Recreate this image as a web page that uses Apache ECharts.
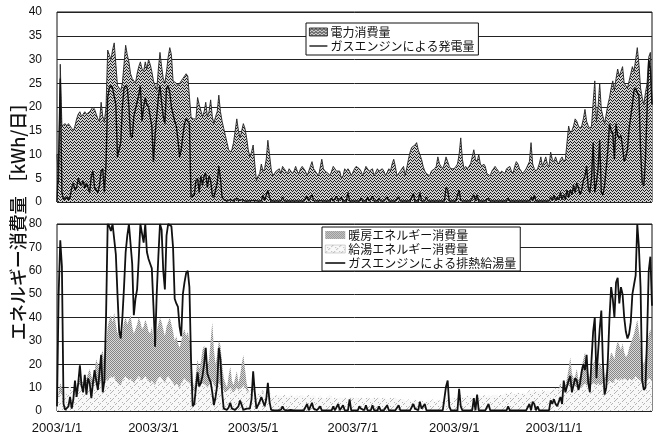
<!DOCTYPE html>
<html>
<head>
<meta charset="utf-8">
<script src="https://cdn.jsdelivr.net/npm/echarts@6/dist/echarts.min.js"></script>
<style>
  html, body { margin: 0; padding: 0; background: #fff; }
  #chart { width: 654px; height: 441px; }
</style>
</head>
<body>
<div id="chart"></div>
<script>
// Daily values for 2003 (kWh/day), Jan 1 .. Dec 31

// Electricity consumption
const powerUse = [
  // Jan
  10,4,29,16,16,16.5,16,16.5,16,15.5,15,16,17.5,18.5,19,18,18.5,19,18.5,18.5,19,19.5,20,19.5,18.5,17.5,17,21,18,17,20,
  // Feb
  32,31,30,32,33.5,29,24.5,24,23.5,25,29,33,31,29.5,27,26,25.5,25,27,28.5,29.5,28,27.5,29.5,28,30,29,27.5,
  // Mar
  25.5,24.5,23.5,28,31.5,28.5,26,25,27.5,30.5,32.5,31,25.5,25.5,25,24.5,24.5,25.5,26,26.5,27,26.5,26.5,18,17.5,17.5,17.5,22,20.5,20.5,18,
  // Apr
  19,21,18,19,21.5,18,16.5,18,19,22.5,19,17,15.5,14,12.5,11,10.5,11,12.5,15,17.5,15,13.5,15,16.5,15.5,13.5,11,9.5,10.5,
  // May
  12,8,4.5,5.5,6,8,6.5,7,9,13,10,7,5.5,6,6.5,6.5,7,6,7.5,7,6.5,6,7,7,6,6.5,7.5,6.5,6,7,7.5,
  // Jun
  7.5,6.5,5.5,5.5,7.5,8.5,7,6.5,6.5,5.5,5.5,9,7,6.5,6.5,6,5.5,5.5,7.5,7,6.5,6.5,6.5,5,5.5,7,6.5,7,6.5,5.5,
  // Jul
  5.5,7,7.5,7.5,7,6.5,5.5,5.5,7.5,7,6.5,6.5,7,5.5,5.5,7,6.5,6.5,7,6.5,5.5,5.5,7,6.5,8,9,7.5,5.5,5.5,6.5,7,
  // Aug
  7.5,5.5,5.5,9,10.5,11.5,11.5,12,12.5,11,10,9,7.5,6.5,6,6,5.5,6.5,6.5,7,7.5,9.5,8,7.5,7,8,9.5,9.5,7.5,7,7,
  // Sep
  7,7.5,8,10,13.5,9,7,7.5,7,7.5,8,9.5,11,9,8.5,10,8,7.5,8,7.5,6,6,5.5,6.5,7,7.5,7,6.5,6,6.5,
  // Oct
  6.5,6,7,7,7.5,6.5,6,7.5,8.5,8,7,6.5,6,6.5,7,7,8.5,12.5,8,7,6.5,7,8,9.5,7.5,8.5,9.5,8,7.5,10.5,9,
  // Nov
  8.5,9.5,8.5,8,9,9.5,8.5,9,9,16,14.5,15,16,17.5,17,16,15.5,16,17.5,19.5,17,16,15.5,16,21,25.5,17,20,25,19.5,
  // Dec
  18,16.5,18.5,20.5,22,24,25.5,23.5,26,28,26.5,27.5,28.5,25,24.5,24,25.5,27,28.5,27.5,30,32.5,29,24,22,20.5,23,25,30.5,31.5,20.5
];

// Electricity generated by the gas engine
const gasPower = [
  0,9,26,2,0.5,0.5,1,0.5,1,3,4,2.5,3,5,4,3.5,4.5,3,4,3,2,5.5,6.5,3,2.5,2,3.5,6.5,7,2,8,
  22,24,24.5,24,24,20.5,9.5,11,12.5,20,24,24.5,24,20,14,13.5,18,19.5,21,22.5,24.5,17,20,22,20.5,20,18,16,
  8.5,14,18,22,24.5,21,18,16.5,24,24.5,23,20,18.5,17,16,13,9.5,11,14,16.5,17.5,17,16.5,1,1,1.5,4.5,5,2,5.5,3.5,
  5.5,6,3,5.5,4.5,1.5,1,1,4,7.5,5,1,0.5,0.3,0.2,0.2,0.5,0.3,0.2,0.3,0.8,0.3,0.2,0.5,0.2,0.2,0.3,0.2,0.2,0.3,
  0.2,0.3,0.2,0.2,0.3,0.2,1.5,0.3,0.2,2.5,1,0.2,0.2,0.2,0.3,0.2,0.2,0.2,1,0.2,0.2,0.2,0.3,0.2,0.2,0.2,0.3,0.2,0.2,0.2,0.2,
  0.2,0.2,1.2,0.2,0.2,1.5,0.3,0.2,0.2,0.2,0.3,0.2,0.2,0.2,0.2,0.2,0.2,0.8,0.2,0.2,1.2,0.2,0.2,1,0.2,0.2,0.2,2,0.2,0.2,
  0.2,0.2,0.2,0.2,0.2,0.8,0.2,0.2,0.2,1,0.2,0.2,1.2,0.2,0.2,0.2,0.8,0.2,0.2,0.2,0.2,1,0.2,0.2,0.2,0.2,0.2,0.2,1,0.2,0.2,
  0.2,0.2,0.2,0.2,0.2,0.2,1.8,0.2,0.2,0.2,2,0.2,0.2,0.2,1,0.2,0.2,0.2,0.2,0.2,0.2,0.2,0.2,0.2,0.2,0.2,3,2.5,0.2,0.2,0.2,
  0.2,0.2,0.2,2.5,0.3,0.2,0.2,0.2,0.2,0.2,0.2,0.2,1.5,0.2,1.5,0.2,0.2,0.2,0.2,0.2,0.2,0.8,0.2,0.2,0.2,0.2,0.2,0.2,0.2,0.2,
  0.2,0.2,0.2,0.8,0.2,0.2,0.2,0.2,0.2,0.2,0.2,0.2,0.2,0.2,0.2,0.2,0.2,1,0.2,1.5,0.2,0.2,0.2,0.2,0.2,0.2,0.2,0.2,0.2,1,0.3,
  1.5,0.3,1,0.5,2,0.5,1.5,0.5,2.5,1,2.5,1.5,3.5,2,4,3,1.5,2.5,4.5,5.5,7.5,3,2,5,12.5,2,4,7,13,2,
  1.5,3.5,7,11,16.5,15,14.5,9,16.5,14,13.5,14,11.5,8.5,9.5,11,15.5,18,20.5,23.5,24,23,22.5,11,4,3.4,9,19.4,30,28,20.5
];

// Space heating energy consumption
const heatingUse = [
  3,8,12,10,4,5,6,8,10,7,6,9,11,12,14,13,12,11,14,16,18,15,13,17,22,20,18,24,26,20,27,
  36,39,41,38,42,37,33,35,31,34,38,40,37,39,41,36,33,35,37,40,38,35,36,39,37,34,33,36,
  31,28,34,37,40,38,35,32,36,38,40,37,34,30,32,29,27,30,33,35,32,34,30,25,13,10,16,22,18,21,26,
  28,24,19,22,30,38,26,20,24,30,28,20,14,12,10,15,19,13,11,14,17,12,15,20,24,18,12,9,8,10,
  12,8,5,4,6,8,9,6,7,10,6,3,2,2,3,1,1,1.5,2,1,0.5,0,0,0,0,0,0,0,0,0,0,
  0,0,0,0,0,0,0,0,0,0,0,0,0,0,0,0,0,0,0,0,0,0,0,0,0,0,0,0,0,0,
  0,0,0,0,0,0,0,0,0,0,0,0,0,0,0,0,0,0,0,0,0,0,0,0,0,0,0,0,0,0,0,
  0,0,0,0,0,0,0,0,0,0,0,0,0,0,0,0,0,0,0,0,0,0,0,0,0,0,0,0,0,0,0,
  0,0,0,0,0,0,0,0,0,0,0,0,0,0,0,0,0,0,0,0,0,0,0,0,0,0,0,0,0,0,
  0,0,0,0,0,0,0,0,0,0,0,0,1,0,0,2,0,4,0,3,0,0,2,0,5,0,4,6,3,8,5,
  7,9,6,10,12,8,13,11,14,18,23,16,14,15,18,13,15,19,22,25,21,16,14,17,20,22,15,18,21,19,
  16,14,17,19,22,25,24,22,27,30,28,26,29,25,23,24,27,29,31,33,36,39,34,28,22,20,23,28,33,35,30
];

// Hot water supply energy consumption
const hotWaterUse = [
  4,6,8,7,6,8,9,10,11,9,8,10,11,12,11,10,12,11,10,12,13,11,10,12,13,12,11,13,14,12,13,
  13,14,15,14,15,13,12,12,11,13,14,15,14,13,14,13,12,13,14,15,14,13,14,15,14,13,12,13,
  12,11,13,14,15,14,13,12,14,15,14,13,12,11,12,11,10,12,13,14,13,13,12,11,9,8,10,11,10,11,12,
  12,11,10,11,12,13,11,10,11,12,11,10,9,8,8,9,10,9,8,9,10,9,9,10,11,10,9,8,8,9,
  9,8,7,7,8,8,8,7,8,9,8,7,6,6,7,6,7,7,6,7,7,6,6,7,7,6,6,7,6,6,7,
  7,6,6,7,6,6,7,6,5,6,7,6,6,5,6,6,7,6,5,6,6,5,6,6,5,6,6,5,6,6,
  6,5,6,6,5,6,6,5,5,6,6,5,5,6,5,5,6,5,5,6,5,5,5,6,5,5,6,5,5,5,5,
  5,5,4,5,5,4,4,5,5,4,4,5,4,4,4,5,4,4,5,4,4,5,5,4,5,5,5,6,5,5,6,
  6,5,6,6,7,6,6,6,7,6,6,7,7,6,6,7,7,6,7,7,6,7,7,6,7,7,7,6,7,7,
  7,7,8,7,7,8,8,7,7,8,8,7,8,8,7,8,9,8,8,9,8,8,9,8,9,9,8,9,9,8,9,
  9,10,9,9,10,10,9,10,10,11,10,10,11,11,10,11,11,10,11,12,11,11,12,11,12,12,11,12,12,11,
  12,12,13,12,13,13,12,13,14,13,13,14,13,14,14,13,14,14,13,14,15,14,14,13,12,11,12,13,14,14,13
];

// Waste heat from the gas engine used for hot water
const recoveredHeat = [
  2,50,73,62,3,0.5,0.5,2,6,1,5,13,6,12,19.5,11,8,15.5,7,14,12,5.5,12,17.5,13,9,8.5,24,8,13,40,
  80,79,77,80,80,67,50,34.5,31,40,53,68,75,80,80,63,41,48,52,65,80,76,72,80,68,65,63,61,
  45,27.5,50,66,80,77.5,60,52,75,80,80,79,70,48,46,44.5,36,32,50,55,59,60,53,22,2,3,10,16.5,10.5,12,15,
  20,27,16,14,12.5,8,2.5,6,11,27,22,8,1,0.5,0.5,1.5,3.5,1,0.5,0.5,0.5,2,4.5,2.5,0.5,0.5,1,0.5,1,5,
  17,8,1,0.5,4,6,6,2,5,12,4,0.5,0.3,0.3,1,0.3,0.3,0.5,2,0.5,0.3,0.3,0.3,0.5,0.3,0.3,0.5,0.3,0.3,0.3,0.5,
  0.3,0.3,3,0.3,0.3,3.5,1,0.3,0.3,0.3,2,0.3,0.3,0.3,0.3,0.3,0.3,0.3,2,0.3,0.3,3,0.3,0.3,2.5,0.3,0.3,0.3,5,0.3,
  0.3,0.3,0.3,0.3,2,1,0.3,0.3,2.5,0.3,0.3,0.3,2.5,0.3,0.3,0.3,2,0.3,0.3,0.3,0.3,2.5,0.3,0.3,0.3,0.3,0.3,0.3,2.5,0.3,0.3,
  0.3,0.3,0.3,0.3,0.3,0.3,3,1,0.3,0.3,4,1,0.3,3,0.3,0.3,0.3,0.3,0.3,0.3,0.3,0.3,0.3,0.3,0.3,0.3,10.5,13,2,0.3,0.3,
  0.3,0.3,0.3,9.5,2,0.3,0.3,0.3,0.3,0.3,0.3,0.3,5.5,0.3,7,0.3,0.3,0.3,0.3,0.3,0.3,3,0.3,0.3,0.3,0.3,0.3,0.3,0.3,0.3,
  0.3,0.3,0.3,2,0.3,0.3,0.3,0.3,0.3,0.3,0.3,0.3,0.3,0.3,0.3,0.3,3,0.3,4,3,0.3,2,0.3,0.3,0.3,0.3,0.3,0.3,0.3,4.5,3,
  5,3,2,4,6,3,13,8,10.5,13,15,8,11,14,13,9,12,17,20,17.5,24,12,8,22,34,40,14,25,35,43,
  20,7,10,22,40,53,48,40,55,57,46,53,50,40,34,31,33,38,50,54,58,80,70,53,13,9,10,32,60,66,45
];

// Date labels shown on the horizontal axis
const tickLabels = ['2003/1/1', '2003/3/1', '2003/5/1', '2003/7/1', '2003/9/1', '2003/11/1'];

// Category list: every day of 2003 as "YYYY/M/D"
const days = [];
for (let i = 0; i < 365; i++) {
  const dt = new Date(2003, 0, 1 + i);
  days.push(dt.getFullYear() + '/' + (dt.getMonth() + 1) + '/' + dt.getDate());
}

// Fill textures
function pattern(w, h, bg, fg, pixels) {
  const c = document.createElement('canvas');
  c.width = w; c.height = h;
  const g = c.getContext('2d');
  g.fillStyle = bg; g.fillRect(0, 0, w, h);
  g.fillStyle = fg;
  pixels.forEach(p => g.fillRect(p[0], p[1], 1, 1));
  return { image: c, repeat: 'repeat' };
}
const zigzagFill = pattern(4, 3, '#cfcfcf', '#1a1a1a', [[0,2],[1,1],[2,0],[3,1]]);
const stippleFill = pattern(2, 2, '#dadada', '#858585', [[0,0],[1,1]]);
const hatchFill = pattern(8, 8, '#f8f8f8', '#b4b4b4', [[0,7],[1,6],[3,4],[4,3],[6,1],[7,0],[2,2],[6,6]]);

// Plain horizontal stroke used as the legend key for line series
const lineKeyThin = 'path://M0,0H20V1.5H0Z';
const lineKeyThick = 'path://M0,0H20V1.6H0Z';

const FONT_NUM = '"Liberation Sans", Arial, sans-serif';
const FONT_JP = '"Noto Sans CJK JP", sans-serif';

const chart = echarts.init(document.getElementById('chart'), null, { renderer: 'canvas' });

const gridBase = { left: 57, right: 2, show: true, borderColor: '#111', borderWidth: 1, backgroundColor: 'transparent' };

chart.setOption({
  animation: false,
  backgroundColor: '#fff',
  grid: [
    Object.assign({ top: 12, height: 190 }, gridBase),
    Object.assign({ top: 224, height: 187 }, gridBase)
  ],
  xAxis: [
    {
      type: 'category', gridIndex: 0, data: days, boundaryGap: false,
      axisLine: { show: false }, axisTick: { show: false }, axisLabel: { show: false }, splitLine: { show: false }
    },
    {
      type: 'category', gridIndex: 1, data: days, boundaryGap: false,
      axisLine: { show: false }, axisTick: { show: false }, splitLine: { show: false },
      axisLabel: {
        interval: (idx, val) => tickLabels.indexOf(val) >= 0,
        fontFamily: FONT_NUM, fontSize: 13, color: '#111', margin: 11
      }
    }
  ],
  yAxis: [
    {
      type: 'value', gridIndex: 0, min: 0, max: 40, interval: 5,
      axisLine: { show: false }, axisTick: { show: false },
      axisLabel: { fontFamily: FONT_NUM, fontSize: 12, color: '#111', margin: 15 },
      splitLine: { lineStyle: { color: '#222', width: 1 } }
    },
    {
      type: 'value', gridIndex: 1, min: 0, max: 80, interval: 10,
      axisLine: { show: false }, axisTick: { show: false },
      axisLabel: { fontFamily: FONT_NUM, fontSize: 12, color: '#111', margin: 15 },
      splitLine: { lineStyle: { color: '#222', width: 1 } }
    }
  ],
  legend: [
    {
      data: [
        { name: '電力消費量', icon: 'rect', itemStyle: { color: zigzagFill, borderColor: '#111', borderWidth: 0.8 } },
        { name: 'ガスエンジンによる発電量', icon: lineKeyThin, itemStyle: { color: '#111', borderWidth: 0 } }
      ],
      orient: 'vertical', left: 306, top: 23,
      itemWidth: 18, itemHeight: 8, itemGap: 2,
      padding: [3, 4, 3, 3],
      borderColor: '#111', borderWidth: 1, backgroundColor: '#fff',
      selectedMode: false,
      textStyle: { fontFamily: FONT_JP, fontSize: 12, color: '#111', padding: [0, 0, 0, -2] }
    },
    {
      data: [
        { name: '暖房エネルギー消費量', icon: 'rect', itemStyle: { color: stippleFill } },
        { name: '給湯エネルギー消費量', icon: 'rect', itemStyle: { color: hatchFill, borderColor: '#aaa', borderWidth: 0.5 } },
        { name: 'ガスエンジンによる排熱給湯量', icon: lineKeyThick, itemStyle: { color: '#111', borderWidth: 0 } }
      ],
      orient: 'vertical', left: 322, top: 227,
      itemWidth: 20, itemHeight: 8, itemGap: 2,
      padding: [2, 4, 2, 3],
      borderColor: '#111', borderWidth: 1, backgroundColor: '#fff',
      selectedMode: false,
      textStyle: { fontFamily: FONT_JP, fontSize: 12, color: '#111', padding: [0, 0, 0, -2] }
    }
  ],
  graphic: [
    {
      type: 'text', x: 18, y: 217, rotation: Math.PI / 2,
      style: {
        text: 'エネルギー消費量 ［kWh/日］',
        font: '500 18px "Noto Sans CJK JP", sans-serif',
        fill: '#111', align: 'center', verticalAlign: 'middle'
      }
    }
  ],
  series: [
    {
      name: '電力消費量', type: 'line', xAxisIndex: 0, yAxisIndex: 0,
      data: powerUse, symbol: 'none',
      lineStyle: { color: '#222', width: 0.9 },
      itemStyle: { color: zigzagFill },
      areaStyle: { color: zigzagFill, opacity: 1 }
    },
    {
      name: 'ガスエンジンによる発電量', type: 'line', xAxisIndex: 0, yAxisIndex: 0,
      data: gasPower, symbol: 'none',
      lineStyle: { color: '#111', width: 1.4 },
      itemStyle: { color: '#111' }
    },
    {
      name: '暖房エネルギー消費量', type: 'line', xAxisIndex: 1, yAxisIndex: 1,
      data: heatingUse, symbol: 'none',
      lineStyle: { width: 0 },
      itemStyle: { color: stippleFill },
      areaStyle: { color: stippleFill, opacity: 1 }
    },
    {
      name: '給湯エネルギー消費量', type: 'line', xAxisIndex: 1, yAxisIndex: 1,
      data: hotWaterUse, symbol: 'none',
      lineStyle: { width: 0 },
      itemStyle: { color: hatchFill },
      areaStyle: { color: hatchFill, opacity: 1 }
    },
    {
      name: 'ガスエンジンによる排熱給湯量', type: 'line', xAxisIndex: 1, yAxisIndex: 1,
      data: recoveredHeat, symbol: 'none',
      lineStyle: { color: '#111', width: 1.8 },
      itemStyle: { color: '#111' }
    }
  ]
});
</script>
</body>
</html>
